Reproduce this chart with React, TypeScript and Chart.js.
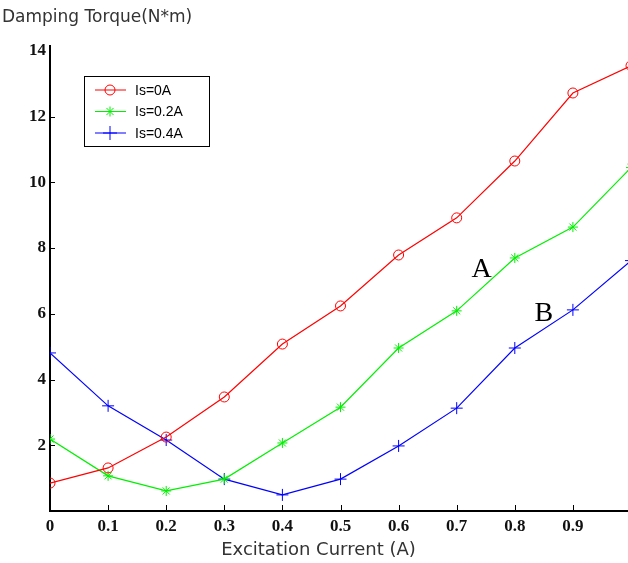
import React, { useEffect, useRef } from "react";
import { Chart, registerables } from "chart.js";

Chart.register(...registerables);

const xValues = [0, 0.1, 0.2, 0.3, 0.4, 0.5, 0.6, 0.7, 0.8, 0.9, 1.0];
const xTickValues = [0, 0.1, 0.2, 0.3, 0.4, 0.5, 0.6, 0.7, 0.8, 0.9, 1.0];
const yTickValues = [2, 4, 6, 8, 10, 12, 14];

const seriesLabels = ["Is=0A", "Is=0.2A", "Is=0.4A"];
const is0 = [0.85, 1.31, 2.25, 3.47, 5.08, 6.24, 7.79, 8.92, 10.65, 12.72, 13.55];
const is02 = [2.19, 1.07, 0.61, 0.97, 2.07, 3.16, 4.96, 6.09, 7.7, 8.64, 10.45];
const is04 = [4.81, 3.2, 2.16, 0.97, 0.49, 0.97, 1.98, 3.13, 4.96, 6.12, 7.62];

const yTitle = "Damping Torque(N*m)";
const xTitle = "Excitation Current (A)";
const annotations = [
  { text: "A", x: 0.743, y: 7.35 },
  { text: "B", x: 0.85, y: 6.0 },
];

const colors = ["#ff0000", "#00f000", "#0000ff"];
const styles = ["circle", "star", "cross"];

function drawMarker(ctx: CanvasRenderingContext2D, style: string, x: number, y: number, r: number, color: string) {
  ctx.save();
  ctx.strokeStyle = color;
  ctx.lineWidth = 1;
  ctx.beginPath();
  if (style === "circle") {
    ctx.arc(x, y, r, 0, Math.PI * 2);
  } else if (style === "cross") {
    ctx.moveTo(x - r, y); ctx.lineTo(x + r, y);
    ctx.moveTo(x, y - r); ctx.lineTo(x, y + r);
  } else {
    ctx.moveTo(x - r, y); ctx.lineTo(x + r, y);
    ctx.moveTo(x, y - r); ctx.lineTo(x, y + r);
    const d = r * 0.707;
    ctx.moveTo(x - d, y - d); ctx.lineTo(x + d, y + d);
    ctx.moveTo(x - d, y + d); ctx.lineTo(x + d, y - d);
  }
  ctx.stroke();
  ctx.restore();
}

const decorPlugin = {
  id: "decor",
  afterDraw(chart: any) {
    const { ctx, chartArea, scales } = chart;
    const xs = scales.x, ys = scales.y;
    ctx.save();
    // inward tick marks
    ctx.strokeStyle = "#000";
    ctx.lineWidth = 1;
    ctx.beginPath();
    xTickValues.forEach((v) => {
      if (v === 0) return;
      const px = Math.round(xs.getPixelForValue(v)) + 0.5;
      ctx.moveTo(px, chartArea.bottom);
      ctx.lineTo(px, chartArea.bottom - 6);
    });
    yTickValues.forEach((v) => {
      if (v === 14) return;
      const py = Math.round(ys.getPixelForValue(v)) + 0.5;
      ctx.moveTo(chartArea.left, py);
      ctx.lineTo(chartArea.left + 5, py);
    });
    ctx.stroke();

    // axis titles
    ctx.fillStyle = "#333";
    ctx.font = "17px 'DejaVu Sans'";
    ctx.textAlign = "left";
    ctx.textBaseline = "middle";
    ctx.fillText(yTitle, 2, 18);
    ctx.font = "18px 'DejaVu Sans'";
    ctx.textAlign = "center";
    ctx.fillText(xTitle, (chartArea.left + chartArea.right) / 2 - 22, 550);

    // annotations
    ctx.fillStyle = "#000";
    ctx.font = "28px 'Liberation Serif'";
    annotations.forEach((a) => {
      ctx.fillText(a.text, xs.getPixelForValue(a.x), ys.getPixelForValue(a.y));
    });

    // legend
    const lx = chartArea.left + 34;
    const ly = chartArea.top + 30;
    const lw = 125, lh = 70;
    ctx.fillStyle = "#fff";
    ctx.fillRect(lx, ly, lw, lh);
    ctx.strokeStyle = "#000";
    ctx.lineWidth = 1;
    ctx.strokeRect(lx + 0.5, ly + 0.5, lw, lh);
    ctx.font = "14px 'Liberation Sans'";
    ctx.textAlign = "left";
    ctx.textBaseline = "middle";
    seriesLabels.forEach((lab, i) => {
      const ry = ly + 14 + i * 21.5;
      ctx.strokeStyle = colors[i];
      ctx.lineWidth = 1;
      ctx.beginPath();
      ctx.moveTo(lx + 11, ry);
      ctx.lineTo(lx + 42, ry);
      ctx.stroke();
      drawMarker(ctx, styles[i], lx + 26, ry, styles[i] === "cross" ? 7 : 5, colors[i]);
      ctx.fillStyle = "#000";
      ctx.fillText(lab, lx + 51, ry + 1);
    });
    ctx.restore();
  },
};

export default function App() {
  const ref = useRef<HTMLCanvasElement>(null);
  useEffect(() => {
    const canvas = ref.current!;
    const tickFont = { family: "'Liberation Serif'", size: 17, weight: "bold" as const };
    const chart = new Chart(canvas, {
      type: "line",
      data: {
        labels: xValues,
        datasets: [is0, is02, is04].map((vals, i) => ({
          label: seriesLabels[i],
          data: vals.map((v, j) => ({ x: xValues[j], y: v })),
          borderColor: colors[i],
          backgroundColor: "rgba(0,0,0,0)",
          borderWidth: 1.2,
          pointStyle: styles[i] as any,
          pointRadius: styles[i] === "cross" ? 6 : 5,
          pointBorderWidth: 1,
          pointBorderColor: colors[i],
          pointBackgroundColor: "rgba(0,0,0,0)",
          tension: 0,
          clip: 0,
        })),
      },
      plugins: [decorPlugin],
      options: {
        animation: false,
        responsive: false,
        devicePixelRatio: 1,
        layout: { padding: { top: 46, right: 29, left: 0, bottom: 0 } },
        plugins: { legend: { display: false }, tooltip: { enabled: false } },
        scales: {
          x: {
            type: "linear",
            min: 0,
            max: 1,
            grid: { display: false, drawTicks: false },
            border: { display: true, color: "#000", width: 2 },
            afterBuildTicks: (s: any) => { s.ticks = xTickValues.map((v) => ({ value: v })); },
            afterFit: (s: any) => { s.height = 52; },
            ticks: {
              padding: 5,
              color: "#111",
              font: tickFont,
              maxRotation: 0,
              autoSkip: false,
              callback: (v: any) => String(Number(Number(v).toFixed(1))),
            },
          },
          y: {
            type: "linear",
            min: 0,
            max: 14.15,
            grid: { display: false, drawTicks: false },
            border: { display: true, color: "#000", width: 2 },
            afterBuildTicks: (s: any) => { s.ticks = yTickValues.map((v) => ({ value: v })); },
            afterFit: (s: any) => { s.width = 50; },
            ticks: {
              padding: 4,
              color: "#111",
              font: tickFont,
              autoSkip: false,
              callback: (v: any) => String(v),
            },
          },
        },
      },
    });
    return () => chart.destroy();
  }, []);
  return (
    <div style={{ position: "absolute", left: 0, top: 0, width: 628, height: 563, overflow: "hidden", background: "#fff" }}>
      <canvas ref={ref} width={660} height={563} style={{ width: 660, height: 563, display: "block" }} />
    </div>
  );
}
